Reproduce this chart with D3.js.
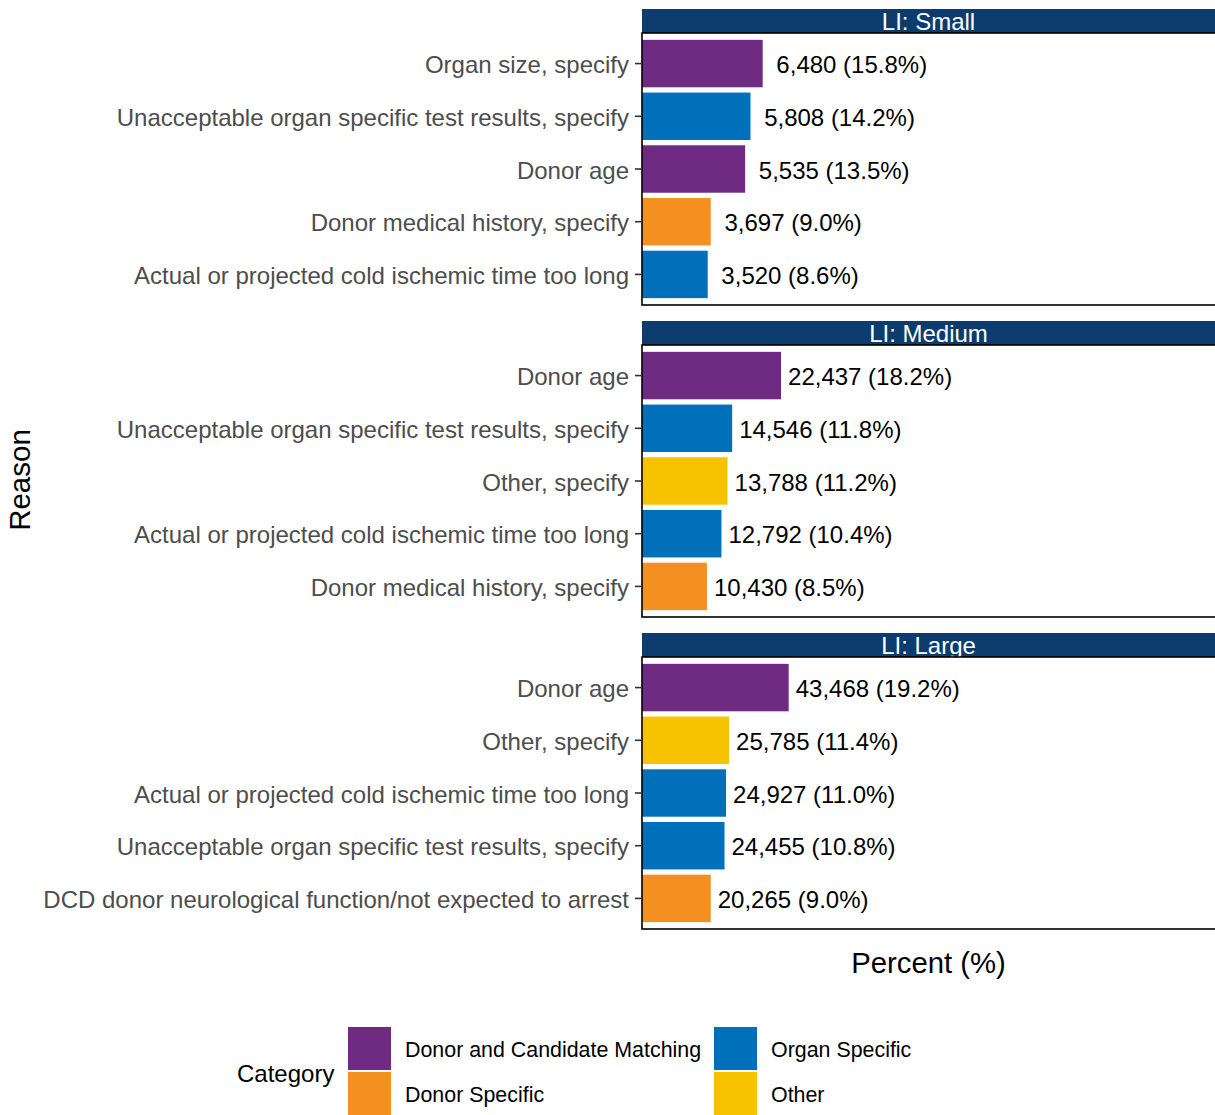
<!DOCTYPE html>
<html lang="en">
<head>
<meta charset="UTF-8" />
<title>Reasons by LI</title>
<script src="https://d3js.org/d3.v7.min.js"></script>
<style>
  body { margin: 0; background: #fff; }
  text { font-family: "Liberation Sans", Arial, sans-serif; }
</style>
</head>
<body>
<div id="chart"></div>
<script>
// facets
const facets = ["LI: Small", "LI: Medium", "LI: Large"];

// reasons, counts, percents and categories per facet (top to bottom)
const smallReasons = ["Organ size, specify", "Unacceptable organ specific test results, specify", "Donor age", "Donor medical history, specify", "Actual or projected cold ischemic time too long"];
const smallCounts = [6480, 5808, 5535, 3697, 3520];
const smallPct = [15.8, 14.2, 13.5, 9.0, 8.6];
const smallCat = ["Donor and Candidate Matching", "Organ Specific", "Donor and Candidate Matching", "Donor Specific", "Organ Specific"];

const mediumReasons = ["Donor age", "Unacceptable organ specific test results, specify", "Other, specify", "Actual or projected cold ischemic time too long", "Donor medical history, specify"];
const mediumCounts = [22437, 14546, 13788, 12792, 10430];
const mediumPct = [18.2, 11.8, 11.2, 10.4, 8.5];
const mediumCat = ["Donor and Candidate Matching", "Organ Specific", "Other", "Organ Specific", "Donor Specific"];

const largeReasons = ["Donor age", "Other, specify", "Actual or projected cold ischemic time too long", "Unacceptable organ specific test results, specify", "DCD donor neurological function/not expected to arrest"];
const largeCounts = [43468, 25785, 24927, 24455, 20265];
const largePct = [19.2, 11.4, 11.0, 10.8, 9.0];
const largeCat = ["Donor and Candidate Matching", "Other", "Organ Specific", "Organ Specific", "Donor Specific"];

const categories = ["Donor and Candidate Matching", "Organ Specific", "Donor Specific", "Other"];
const catColors = ["#6f2a82", "#0070bb", "#f3901f", "#f7c300"];

const facetData = [
  [smallReasons, smallCounts, smallPct, smallCat],
  [mediumReasons, mediumCounts, mediumPct, mediumCat],
  [largeReasons, largeCounts, largePct, largeCat]
].map(([r, c, p, k]) => r.map((reason, i) => ({ reason, count: c[i], pct: p[i], cat: k[i] })));

const W = 1215, H = 1115;
const panelLeft = 642, panelRight = 1216;
const stripH = 24, panelH = 272, facetGap = 16, top0 = 9;

const svg = d3.select("#chart").append("svg")
  .attr("width", W).attr("height", H);

const x = d3.scaleLinear().domain([0, 75]).range([panelLeft, 1215]);
const color = d3.scaleOrdinal().domain(categories).range(catColors);
const fmt = d3.format(",");

facetData.forEach((rows, fi) => {
  const stripTop = top0 + fi * (stripH + panelH + facetGap);
  const pTop = stripTop + stripH;

  const y = d3.scaleBand()
    .domain(rows.map(d => d.reason))
    .range([pTop, pTop + panelH])
    .paddingInner(0.1)
    .paddingOuter(0.13);

  const g = svg.append("g");

  // strip
  g.append("rect")
    .attr("x", panelLeft).attr("y", stripTop)
    .attr("width", panelRight - panelLeft).attr("height", stripH)
    .attr("fill", "#0c3c6e");
  g.append("text")
    .attr("x", (panelLeft + 1215) / 2).attr("y", stripTop + stripH / 2)
    .attr("text-anchor", "middle").attr("dominant-baseline", "central")
    .attr("fill", "#fff").style("font-size", "24px")
    .text(facets[fi]);

  // bars
  g.selectAll("rect.bar").data(rows).join("rect")
    .attr("class", "bar")
    .attr("x", x(0))
    .attr("y", d => y(d.reason))
    .attr("width", d => x(d.pct) - x(0))
    .attr("height", y.bandwidth())
    .attr("fill", d => color(d.cat));

  // labels (count padded like the original)
  g.selectAll("text.lab").data(rows).join("text")
    .attr("class", "lab")
    .attr("x", d => x(d.pct) + 7)
    .attr("y", d => y(d.reason) + y.bandwidth() / 2 + 1)
    .attr("dominant-baseline", "central")
    .style("white-space", "pre")
    .style("font-size", "24px")
    .attr("fill", "#000")
    .text(d => fmt(d.count).padStart(6, " ") + " (" + d.pct.toFixed(1) + "%)");

  // panel border
  g.append("rect")
    .attr("x", panelLeft).attr("y", pTop)
    .attr("width", panelRight - panelLeft + 2).attr("height", panelH)
    .attr("fill", "none").attr("stroke", "#000").attr("stroke-width", 1.6);

  // y axis
  const ax = g.append("g")
    .attr("transform", `translate(${panelLeft},0)`)
    .call(d3.axisLeft(y).tickSize(7).tickPadding(6));
  ax.select(".domain").remove();
  ax.selectAll(".tick line").attr("stroke", "#333").attr("stroke-width", 1.6);
  ax.selectAll(".tick text")
    .attr("fill", "#4d4d4d")
    .attr("dy", "0.4em")
    .style("font-size", "24px")
    .style("font-family", '"Liberation Sans", Arial, sans-serif');
});

// axis titles
svg.append("text")
  .attr("x", (panelLeft + 1215) / 2).attr("y", 973)
  .attr("text-anchor", "middle")
  .style("font-size", "29.3px")
  .text("Percent (%)");

svg.append("text")
  .attr("transform", "translate(30,480) rotate(-90)")
  .attr("text-anchor", "middle")
  .style("font-size", "29.5px")
  .text("Reason");

// legend
const legend = svg.append("g");
legend.append("text")
  .attr("x", 237).attr("y", 1073)
  .attr("dominant-baseline", "central")
  .style("font-size", "24px")
  .text("Category");

const keyX = [348, 714], keyY = [1027, 1072], keyS = 43;
categories.forEach((c, i) => {
  const col = i % 2, row = Math.floor(i / 2);
  legend.append("rect")
    .attr("x", keyX[col]).attr("y", keyY[row])
    .attr("width", keyS).attr("height", keyS)
    .attr("fill", color(c));
  legend.append("text")
    .attr("x", keyX[col] + keyS + 14).attr("y", keyY[row] + keyS / 2 + 1)
    .attr("dominant-baseline", "central")
    .style("font-size", "21.4px")
    .text(c);
});
</script>
</body>
</html>
